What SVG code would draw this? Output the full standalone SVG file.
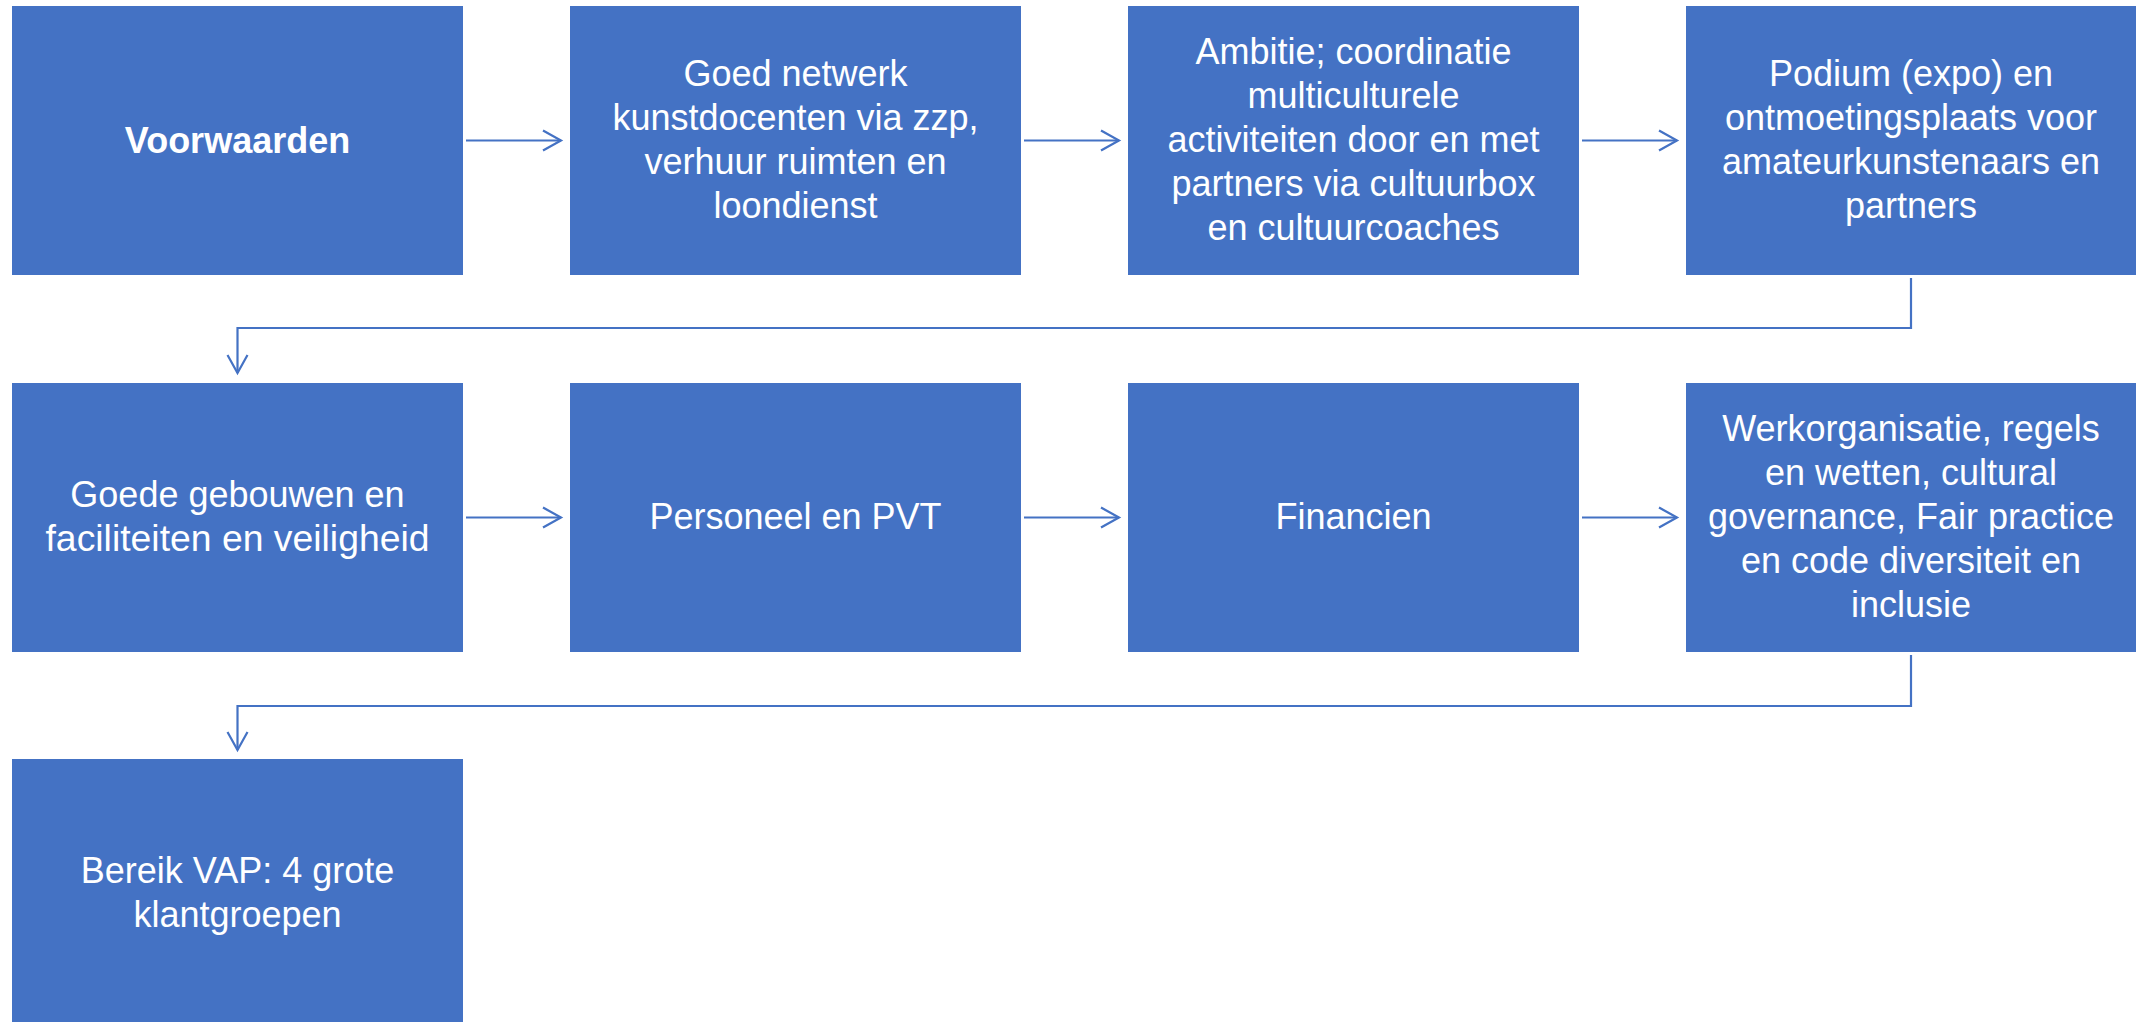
<svg xmlns="http://www.w3.org/2000/svg" width="2136" height="1022" viewBox="0 0 2136 1022">
<style>
.box{fill:#4472C4}
.t{font-family:"Liberation Sans",Arial,sans-serif;font-size:36px;fill:#FFFFFF;text-anchor:middle}
.b{font-weight:bold}
.c{fill:none;stroke:#4472C4;stroke-width:2.2}
</style>
<defs>
<marker id="ah" markerUnits="userSpaceOnUse" markerWidth="24" markerHeight="24" refX="19" refY="11" orient="auto" overflow="visible">
<path d="M1,1 L19,11 L1,21" fill="none" stroke="#4472C4" stroke-width="2.2"/>
</marker>
</defs>
<rect width="2136" height="1022" fill="#FFFFFF"/>
<g id="connectors">
<path class="c" d="M466,140.5 H561" marker-end="url(#ah)"/>
<path class="c" d="M1024,140.5 H1119" marker-end="url(#ah)"/>
<path class="c" d="M1582,140.5 H1677" marker-end="url(#ah)"/>
<path class="c" d="M1911,278 V328 H237.5 V373" marker-end="url(#ah)"/>
<path class="c" d="M466,517.5 H561" marker-end="url(#ah)"/>
<path class="c" d="M1024,517.5 H1119" marker-end="url(#ah)"/>
<path class="c" d="M1582,517.5 H1677" marker-end="url(#ah)"/>
<path class="c" d="M1911,655 V706 H237.5 V750" marker-end="url(#ah)"/>
</g>
<g id="n1">
<rect class="box" x="12" y="6" width="451" height="269"/>
<text class="t b" x="237.5" y="153">Voorwaarden</text>
</g>
<g id="n2">
<rect class="box" x="570" y="6" width="451" height="269"/>
<text class="t" x="795.5" y="86">Goed netwerk</text>
<text class="t" x="795.5" y="130">kunstdocenten via zzp,</text>
<text class="t" x="795.5" y="174">verhuur ruimten en</text>
<text class="t" x="795.5" y="218">loondienst</text>
</g>
<g id="n3">
<rect class="box" x="1128" y="6" width="451" height="269"/>
<text class="t" x="1353.5" y="64">Ambitie; coordinatie</text>
<text class="t" x="1353.5" y="108">multiculturele</text>
<text class="t" x="1353.5" y="152">activiteiten door en met</text>
<text class="t" x="1353.5" y="196">partners via cultuurbox</text>
<text class="t" x="1353.5" y="240">en cultuurcoaches</text>
</g>
<g id="n4">
<rect class="box" x="1686" y="6" width="450" height="269"/>
<text class="t" x="1911" y="86">Podium (expo) en</text>
<text class="t" x="1911" y="130">ontmoetingsplaats voor</text>
<text class="t" x="1911" y="174">amateurkunstenaars en</text>
<text class="t" x="1911" y="218">partners</text>
</g>
<g id="n5">
<rect class="box" x="12" y="383" width="451" height="269"/>
<text class="t" x="237.5" y="507">Goede gebouwen en</text>
<text class="t" x="237.5" y="551" textLength="384" lengthAdjust="spacingAndGlyphs">faciliteiten en veiligheid</text>
</g>
<g id="n6">
<rect class="box" x="570" y="383" width="451" height="269"/>
<text class="t" x="795.5" y="529">Personeel en PVT</text>
</g>
<g id="n7">
<rect class="box" x="1128" y="383" width="451" height="269"/>
<text class="t" x="1353.5" y="529">Financien</text>
</g>
<g id="n8">
<rect class="box" x="1686" y="383" width="450" height="269"/>
<text class="t" x="1911" y="441">Werkorganisatie, regels</text>
<text class="t" x="1911" y="485">en wetten, cultural</text>
<text class="t" x="1911" y="529">governance, Fair practice</text>
<text class="t" x="1911" y="573">en code diversiteit en</text>
<text class="t" x="1911" y="617">inclusie</text>
</g>
<g id="n9">
<rect class="box" x="12" y="759" width="451" height="269"/>
<text class="t" x="237.5" y="883">Bereik VAP: 4 grote</text>
<text class="t" x="237.5" y="927">klantgroepen</text>
</g>
</svg>
